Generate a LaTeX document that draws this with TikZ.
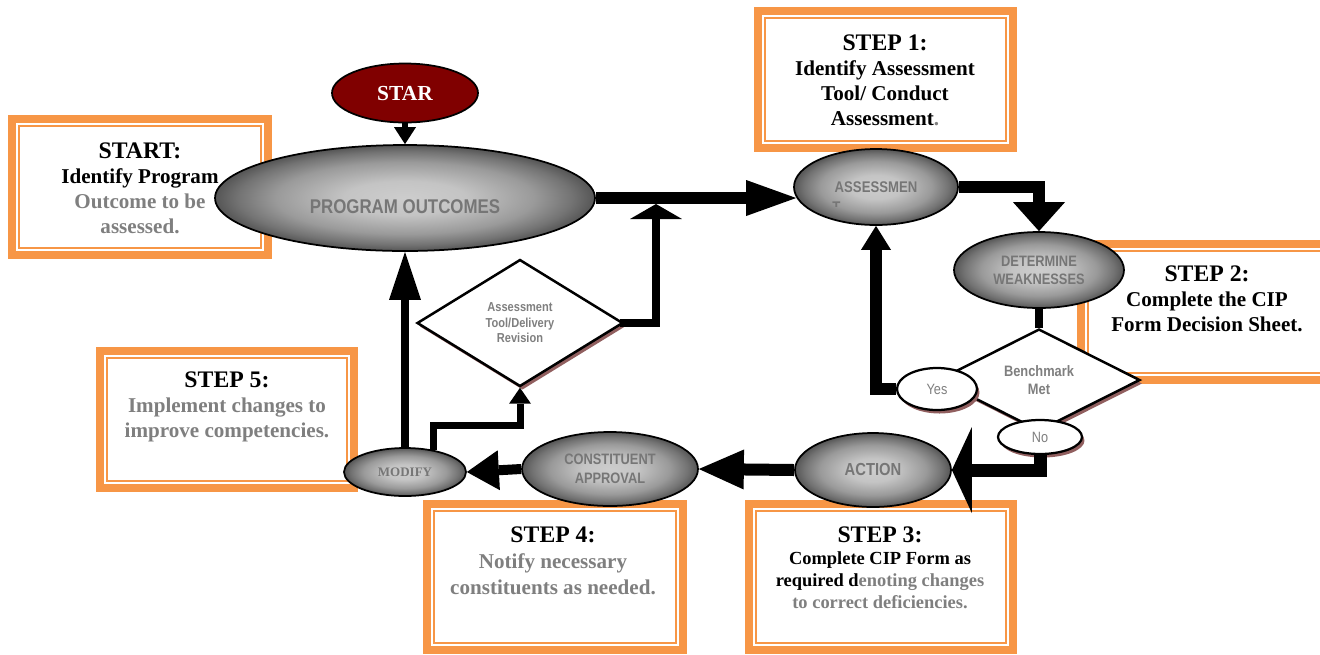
\documentclass[tikz,border=0pt]{standalone}
\usepackage{fontspec}
\setmainfont{Liberation Serif}
\setsansfont{Liberation Sans}
\newfontfamily\narrowsans[FakeStretch=0.85]{Liberation Sans}
\usetikzlibrary{shapes.geometric,arrows.meta,shadows,calc}
\definecolor{orng}{HTML}{F79646}
\definecolor{txtgray}{HTML}{7F7F7F}
\definecolor{elltxt}{HTML}{767676}
\definecolor{shd}{RGB}{145,95,95}
\definecolor{darkred}{HTML}{800000}
\definecolor{ellcA}{HTML}{CDCDCD}
\definecolor{ellcB}{HTML}{C4C4C4}
\definecolor{ellcC}{HTML}{9A9A9A}
\definecolor{ellcD}{HTML}{737373}
\definecolor{ellcE}{HTML}{555555}
\pgfdeclareradialshading{ellshade}{\pgfpoint{0bp}{0bp}}{color(0bp)=(ellcA); color(8bp)=(ellcB); color(17bp)=(ellcC); color(22bp)=(ellcD); color(25bp)=(ellcE); color(50bp)=(ellcE)}
\newcommand\myefont[2]{\narrowsans\bfseries\fontsize{#1}{#2}\selectfont}
\tikzset{
  frame/.style={rectangle, draw=orng, line width=0.16cm, fill=white, outer sep=0pt, inner sep=0pt},
  frameinner/.style={draw=orng, line width=0.04cm},
  boxtext/.style={align=center, inner sep=0pt, font=\bfseries\fontsize{12}{14.2}\selectfont},
  grayell/.style={ellipse, draw=black, line width=0.035cm, inner sep=0pt, shade, shading=ellshade, text=elltxt, align=center},
  whiteell/.style={ellipse, draw=black, line width=0.045cm, fill=white, inner sep=0pt, text=txtgray,
    font=\narrowsans\fontsize{8.5}{10}\selectfont,
    drop shadow={shadow xshift=0.05cm, shadow yshift=-0.07cm, fill=shd, opacity=1}},
  decision/.style={diamond, draw=black, line width=0.05cm, fill=white, inner sep=0pt, align=center, text=txtgray,
    drop shadow={shadow xshift=0.05cm, shadow yshift=-0.07cm, fill=shd, opacity=1}},
  conn/.style={draw=black, line join=miter},
}
\newcommand\ttl[1]{{\fontsize{13.5}{14.2}\selectfont #1}}
\begin{document}
\begin{tikzpicture}[x=0.02cm, y=-0.02cm]
\useasboundingbox (0,0) rectangle (1320,654);
\fill[white] (0,0) rectangle (1320,654);

% ---------- orange frames ----------
\node[frame, minimum width=5.12cm, minimum height=2.72cm] (bStart) at (140,187) {};
\draw[frameinner] ([shift={(7,7)}]bStart.north west) rectangle ([shift={(-7,-7)}]bStart.south east);
\node[frame, minimum width=5.10cm, minimum height=2.74cm] (bOne) at (885.5,79.5) {};
\draw[frameinner] ([shift={(7,7)}]bOne.north west) rectangle ([shift={(-7,-7)}]bOne.south east);
\node[frame, minimum width=5.0cm, minimum height=2.72cm] (bTwo) at (1206,312) {};
\draw[frameinner] ([shift={(7,7)}]bTwo.north west) rectangle ([shift={(-7,-7)}]bTwo.south east);
\node[frame, minimum width=5.28cm, minimum height=2.92cm] (bThree) at (881,577) {};
\draw[frameinner] ([shift={(7,7)}]bThree.north west) rectangle ([shift={(-7,-7)}]bThree.south east);
\node[frame, minimum width=5.12cm, minimum height=2.92cm] (bFour) at (555,577) {};
\draw[frameinner] ([shift={(7,7)}]bFour.north west) rectangle ([shift={(-7,-7)}]bFour.south east);
\node[frame, minimum width=5.08cm, minimum height=2.74cm] (bFive) at (227,419.5) {};
\draw[frameinner] ([shift={(7,7)}]bFive.north west) rectangle ([shift={(-7,-7)}]bFive.south east);

% ---------- box texts ----------
\node[boxtext] (tStart) at (140,188) {\ttl{START:}\\Identify Program\\\textcolor{txtgray}{Outcome to be}\\\textcolor{txtgray}{assessed.}};
\node[boxtext] (tOne) at (885,80) {\ttl{STEP 1:}\\Identify Assessment\\Tool/ Conduct\\Assessment\textcolor{txtgray}{.}};
\node[boxtext] (tTwo) at (1207,299) {\ttl{STEP 2:}\\Complete the CIP\\Form Decision Sheet.};
\node[boxtext, font=\bfseries\fontsize{10.5}{12.6}\selectfont] (tThree) at (880,568) {{\fontsize{13.5}{12.6}\selectfont STEP 3:}\\Complete CIP Form as\\required d\textcolor{txtgray}{enoting changes}\\\textcolor{txtgray}{to correct deficiencies.}};
\node[boxtext, font=\bfseries\fontsize{12}{14.8}\selectfont] (tFour) at (553,561) {\ttl{STEP 4:}\\\textcolor{txtgray}{Notify necessary}\\\textcolor{txtgray}{constituents as needed.}};
\node[boxtext] (tFive) at (227,407) {\ttl{STEP 5:}\\\textcolor{txtgray}{Implement changes to}\\\textcolor{txtgray}{improve competencies.}};

% ---------- shapes ----------
\node[grayell, minimum width=7.6cm, minimum height=2.12cm] (PO) at (405,198) {};
\node[inner sep=0pt, text=elltxt, font=\myefont{11.3}{13}] (POt) at (405,207) {PROGRAM OUTCOMES};
\node[ellipse, draw=black, line width=0.035cm, fill=darkred, minimum width=2.92cm, minimum height=1.18cm, inner sep=0pt, text=white, font=\bfseries\fontsize{12.2}{14}\selectfont] (STAR) at (405,93) {STAR};
\node[grayell, minimum width=3.28cm, minimum height=1.52cm, font=\myefont{8.8}{10}] (AS) at (876,187) {ASSESSMEN};
\begin{scope}
  \clip (825,196) rectangle (850,206.5);
  \node[anchor=north west, inner sep=0pt, text=elltxt, font=\myefont{8.8}{10}] (ASt) at (832,201.5) {T};
\end{scope}
\node[grayell, minimum width=3.4cm, minimum height=1.52cm, font=\myefont{8.6}{10.2}] (DW) at (1039,270) {DETERMINE\\WEAKNESSES};
\node[decision, minimum width=4.04cm, minimum height=2.04cm, font=\myefont{8.6}{10.2}] (BM) at (1039,380) {Benchmark\\Met};
\node[whiteell, minimum width=1.6cm, minimum height=0.84cm] (Yes) at (937,389) {Yes};
\node[whiteell, minimum width=1.68cm, minimum height=0.68cm] (No) at (1040,437) {No};
\node[grayell, minimum width=3.12cm, minimum height=1.48cm, font=\myefont{9.9}{11}] (AC) at (873,470) {ACTION};
\node[grayell, minimum width=3.52cm, minimum height=1.48cm, font=\myefont{8.6}{10.8}] (CA) at (610,469) {CONSTITUENT\\APPROVAL};
\node[grayell, minimum width=2.44cm, minimum height=0.96cm, font=\bfseries\fontsize{7.4}{9}\selectfont] (MO) at (405,472) {MODIFY};
\node[decision, minimum width=4.12cm, minimum height=2.54cm, font=\myefont{7.4}{8.8}] (AT) at (520,323) {Assessment\\Tool/Delivery\\Revision};

% ---------- connectors ----------
\draw[conn, line width=0.12cm, -{Triangle[length=0.34cm, width=0.44cm, line width=0pt]}] (STAR.south) -- (PO.north);
\draw[conn, line width=0.24cm, -{Triangle[length=1cm, width=0.72cm, line width=0pt]}] (PO.east) -- ($(AS.west |- PO.east)+(3,0)$);
\coordinate (j) at (656,204);
\draw[conn, line width=0.16cm, -{Triangle[length=0.3cm, width=1.04cm, line width=0pt]}] ($(AT.east)+(-4,0)$) -| (j);
\draw[conn, line width=0.24cm, -{Triangle[length=0.58cm, width=1.04cm, line width=0pt]}] (AS.east) -| (DW.north);
\draw[conn, line width=0.16cm] (DW.south) -- (BM.north);
\draw[conn, line width=0.24cm, -{Triangle[length=0.48cm, width=0.6cm, line width=0pt]}] (Yes.west) -| (AS.south);
\draw[conn, line width=0.26cm, -{Triangle[length=0.4cm, width=1.72cm, line width=0pt]}] (No.south) |- (AC.east);
\draw[conn, line width=0.24cm, -{Triangle[length=0.9cm, width=0.8cm, line width=0pt]}] (AC.west) -- (CA.east);
\draw[conn, line width=0.2cm, -{Triangle[length=0.64cm, width=0.8cm, line width=0pt]}] (CA.west) -- (MO.east);
\draw[conn, line width=0.16cm, -{Triangle[length=0.96cm, width=0.64cm, line width=0pt]}] (MO.north) -- (PO.south);
\draw[conn, line width=0.14cm, -{Triangle[length=0.32cm, width=0.44cm, line width=0pt]}] ($(MO.north)+(28,3)$) |- ($(AT.south)+(0,38)$) -- (AT.south);
\end{tikzpicture}
\end{document}
